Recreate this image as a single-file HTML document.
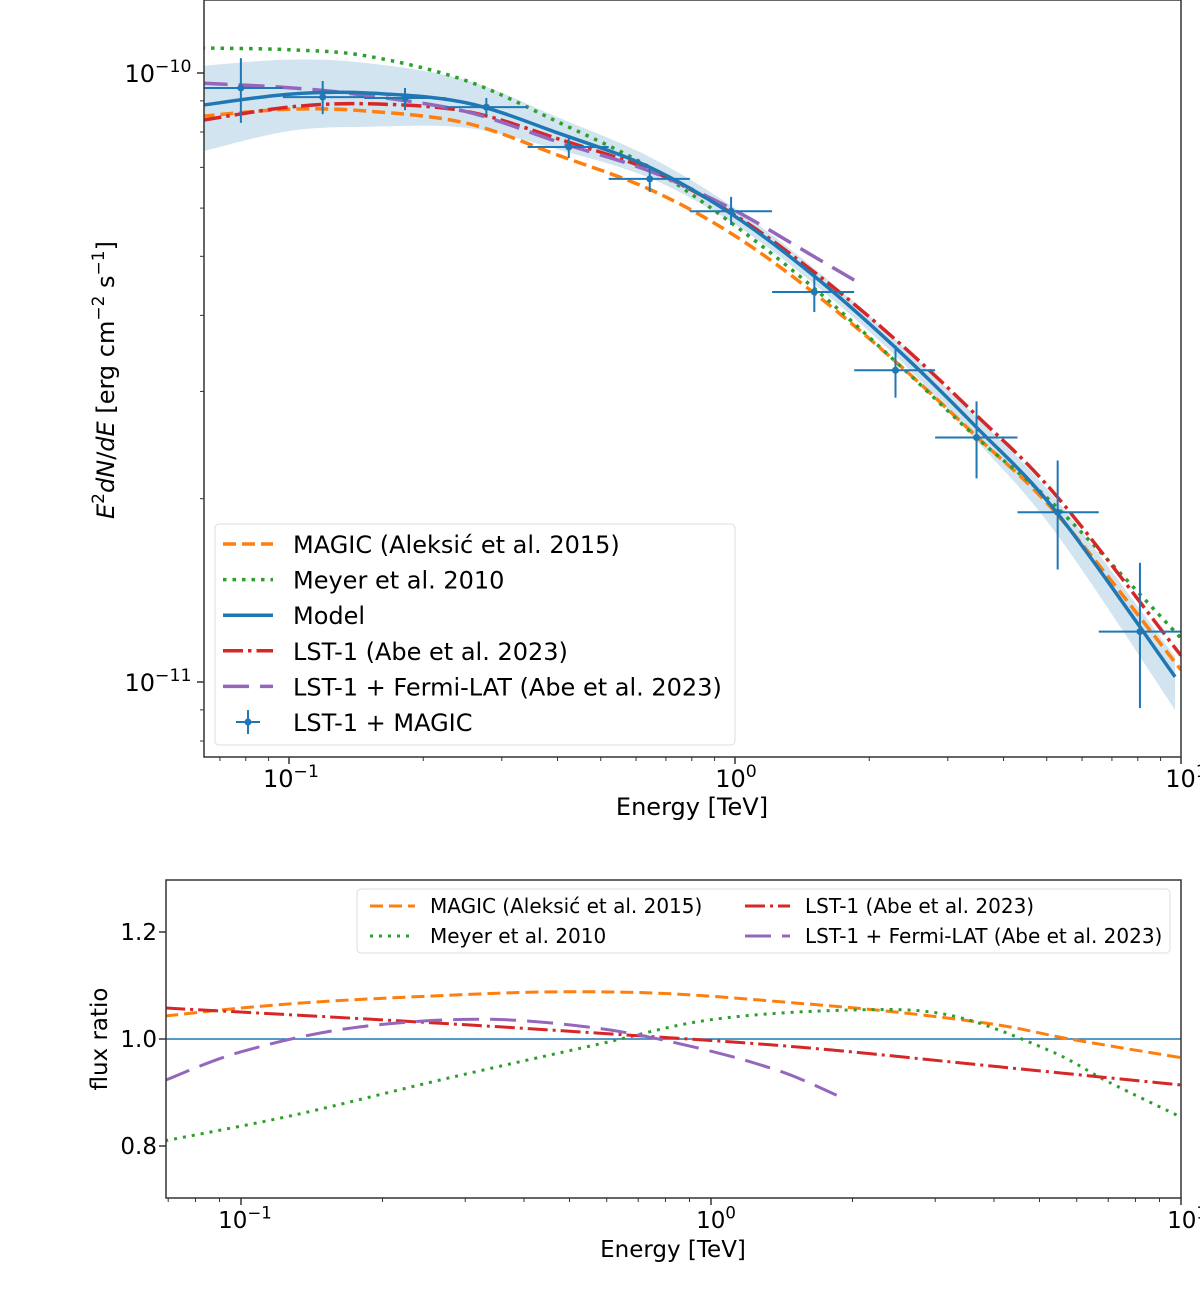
<!DOCTYPE html>
<html><head><meta charset="utf-8"><style>
html,body{margin:0;padding:0;background:#fff;}
svg{display:block;font-family:"DejaVu Sans","Liberation Sans",sans-serif;}
</style></head><body>
<svg id="fig" width="1200" height="1290" viewBox="0 0 1200 1290" xmlns="http://www.w3.org/2000/svg"></svg>
<script>
// ---------- DATA (top panel, flux in units of 1e-11 erg cm^-2 s^-1) ----------
const lineE = [0.0637,0.1,0.15,0.25,0.405,0.644,0.985,1.5,2.29,3.48,5.29,10];
const modelE = [0.0637,0.1,0.15,0.25,0.405,0.644,0.985,1.5,2.29,3.48,5.29,9.7];
const modelFlux = [8.85,9.23,9.27,8.93,7.95,7.0,5.86,4.65,3.54,2.62,1.89,1.02];
const bandUpper = [10.27,10.52,10.38,9.73,8.43,7.28,6.04,4.79,3.65,2.72,1.98,1.10];
const bandLower = [7.43,8.03,8.16,8.13,7.47,6.72,5.68,4.51,3.43,2.49,1.74,0.90];
const magicFlux = [8.49,8.72,8.66,8.27,7.31,6.44,5.44,4.36,3.36,2.53,1.88,1.047];
const meyerFlux = [10.99,10.92,10.66,9.71,8.28,7.0,5.66,4.44,3.36,2.52,1.93,1.18];
const lstFlux = [8.36,8.79,8.90,8.65,7.78,6.93,5.88,4.72,3.65,2.74,2.01,1.105];
const fermiE = [0.0637,0.1,0.15,0.25,0.405,0.644,0.985,1.5,1.85];
const fermiFlux = [9.62,9.46,9.18,8.64,7.69,6.90,5.98,5.0,4.57];
const pointE = [0.078,0.119,0.182,0.277,0.424,0.644,0.98,1.506,2.29,3.48,5.29,8.09];
const pointFlux = [9.45,9.13,9.10,8.79,7.56,6.70,5.93,4.37,3.25,2.52,1.90,1.21];
const pointHi = [10.58,9.70,9.45,9.10,7.91,7.01,6.26,4.66,3.57,2.89,2.31,1.57];
const pointLo = [8.28,8.56,8.69,8.53,7.25,6.38,5.63,4.05,2.93,2.16,1.53,0.906];
const binEdges = [0.0638,0.0969,0.1475,0.2243,0.3427,0.521,0.792,1.211,1.85,2.81,4.30,6.54,10];
// ---------- DATA (bottom panel, flux ratios) ----------
const magicRatioE = [0.069,0.1,0.15,0.25,0.45,0.8,1.53,2.5,4.1,5.8,10];
const magicRatio = [1.043,1.058,1.07,1.08,1.088,1.085,1.067,1.05,1.026,1.0,0.965];
const meyerRatioE = [0.069,0.13,0.276,0.575,1,1.96,3.2,5.2,7,10];
const meyerRatio = [0.81,0.858,0.927,0.99,1.036,1.054,1.045,0.98,0.92,0.854];
const lstRatioE = [0.069,0.216,0.575,1.53,4.1,10];
const lstRatio = [1.058,1.034,1.011,0.985,0.948,0.914];
const fermiRatioE = [0.069,0.1,0.17,0.32,0.575,0.94,1.4,1.85];
const fermiRatio = [0.923,0.976,1.02,1.037,1.02,0.983,0.94,0.895];
const ratioTicks = [0.8,1.0,1.2];

// ---------- helpers ----------
const NS="http://www.w3.org/2000/svg";
const svg=document.getElementById('fig');
function mk(tag,attrs,parent){const e=document.createElementNS(NS,tag);for(const k in attrs)e.setAttribute(k,attrs[k]);(parent||svg).appendChild(e);return e;}
const C={blue:'#1f77b4',orange:'#ff7f0e',green:'#2ca02c',red:'#d62728',purple:'#9467bd'};
const T={x0:204,x1:1181,y0:0,y1:757};
function txT(e){return 289+446*(Math.log10(e)+1);}
function tyT(f){return 73-609*(Math.log10(f*1e-11)+10);}
const B={x0:166,x1:1181,y0:880,y1:1198};
function txB(e){return 241+470*(Math.log10(e)+1);}
function tyB(r){return 1039-(r-1)*535;}

function smoothPath(pts){
  let d='M'+pts[0][0].toFixed(1)+','+pts[0][1].toFixed(1);
  for(let i=0;i<pts.length-1;i++){
    const p0=pts[i-1]||pts[i],p1=pts[i],p2=pts[i+1],p3=pts[i+2]||p2;
    const c1=[p1[0]+(p2[0]-p0[0])/6,p1[1]+(p2[1]-p0[1])/6];
    const c2=[p2[0]-(p3[0]-p1[0])/6,p2[1]-(p3[1]-p1[1])/6];
    d+=' C'+c1[0].toFixed(1)+','+c1[1].toFixed(1)+' '+c2[0].toFixed(1)+','+c2[1].toFixed(1)+' '+p2[0].toFixed(1)+','+p2[1].toFixed(1);
  }
  return d;
}
function text(x,y,s,attrs,parent){const t=mk('text',Object.assign({x:x,y:y,'font-size':24,fill:'#000'},attrs||{}),parent);t.textContent=s;return t;}
function powLabel(x,y,exp,size,parent,name){
  const t=mk('text',{x:x,y:y,'font-size':size,'text-anchor':'middle'},parent);
  
  
  const a=mk('tspan',{},t);a.textContent='10';
  const b=mk('tspan',{dy:-size*0.42,'font-size':size*0.72},t);b.textContent=exp;
  return t;
}

// ---------- TOP PANEL ----------
const gT=mk('g',{});


const clipT=mk('clipPath',{id:'clipT'});mk('rect',{x:T.x0,y:T.y0,width:T.x1-T.x0,height:T.y1-T.y0},clipT);
const plotT=mk('g',{'clip-path':'url(#clipT)'},gT);
{
  let d=smoothPath(modelE.map((e,i)=>[txT(e),tyT(bandUpper[i])]));
  const low=modelE.map((e,i)=>[txT(e),tyT(bandLower[i])]).reverse();
  d+=' L'+smoothPath(low).slice(1)+' Z';
  const p=mk('path',{d:d,fill:C.blue,'fill-opacity':0.2,stroke:'none'},plotT);
  
  
}
function curve(parent,E,V,tx,ty,color,dash,name,w){
  const p=mk('path',{d:smoothPath(E.map((e,i)=>[tx(e),ty(V[i])])),fill:'none',stroke:color,'stroke-width':w||3.5,'stroke-dasharray':dash||'none'},parent);
  
  
}
curve(plotT,lineE,magicFlux,txT,tyT,C.orange,'13,6','magic-2015-curve');
curve(plotT,lineE,meyerFlux,txT,tyT,C.green,'3.5,6','meyer-2010-curve');
curve(plotT,lineE,lstFlux,txT,tyT,C.red,'20,5,3.5,5','lst1-2023-curve');
curve(plotT,fermiE,fermiFlux,txT,tyT,C.purple,'26,11','lst1-fermi-curve');
curve(plotT,modelE,modelFlux,txT,tyT,C.blue,null,'model-curve');
pointE.forEach((e,i)=>{
  const g=mk('g',{stroke:C.blue,'stroke-width':2},plotT);
  
  
  const x=txT(e),y=tyT(pointFlux[i]);
  mk('line',{x1:txT(binEdges[i]),x2:txT(binEdges[i+1]),y1:y,y2:y},g);
  mk('line',{x1:x,x2:x,y1:tyT(pointHi[i]),y2:tyT(pointLo[i])},g);
  mk('circle',{cx:x,cy:y,r:3.5,fill:C.blue,stroke:'none'},g);
});
mk('rect',{x:T.x0,y:T.y0,width:T.x1-T.x0,height:T.y1-T.y0,fill:'none',stroke:'#333','stroke-width':1.5},gT);
for(let dec=-2;dec<=1;dec++){for(let m=1;m<10;m++){const e=m*Math.pow(10,dec);const x=txT(e);if(x<T.x0-0.5||x>T.x1+0.5)continue;
  mk('line',{x1:x,x2:x,y1:T.y1,y2:T.y1+(m===1?7:4),stroke:'#333','stroke-width':m===1?1.5:1},gT);}}
powLabel(291,787,'−1',24,gT,'x-tick-label-0.1');
powLabel(736,787,'0',24,gT,'x-tick-label-1');
powLabel(1186,787,'1',24,gT,'x-tick-label-10');
for(let dec=-12;dec<=-10;dec++){for(let m=1;m<10;m++){const f=m*Math.pow(10,dec)*1e11;const y=tyT(f);if(y<T.y0-0.5||y>T.y1+0.5)continue;
  mk('line',{x1:T.x0,x2:T.x0-(m===1?7:4),y1:y,y2:y,stroke:'#333','stroke-width':m===1?1.5:1},gT);}}
powLabel(158,82,'−10',24,gT,'y-tick-label-1e-10');
powLabel(158,691,'−11',24,gT,'y-tick-label-1e-11');
{const t=text(692,815,'Energy [TeV]',{'text-anchor':'middle'},gT);}
{
  const t=mk('text',{x:0,y:0,'font-size':24,'text-anchor':'middle',transform:'translate(114,380) rotate(-90)'},gT);
  
  
  t.innerHTML='<tspan font-style="italic">E</tspan><tspan dy="-10" font-size="17">2</tspan><tspan dy="10" font-style="italic">dN</tspan><tspan>/</tspan><tspan font-style="italic">dE</tspan><tspan>  [erg cm</tspan><tspan dy="-10" font-size="17">−2</tspan><tspan dy="10"> s</tspan><tspan dy="-10" font-size="17">−1</tspan><tspan dy="10">]</tspan>';
}
{
  const g=mk('g',{},gT);
  
  
  mk('rect',{x:215,y:524,width:520,height:221,rx:4,fill:'#fff','fill-opacity':0.85,stroke:'#ddd','stroke-width':1},g);
  const items=[['MAGIC (Aleksić et al. 2015)',C.orange,'13,6'],['Meyer et al. 2010',C.green,'3.5,6'],['Model',C.blue,null],['LST-1 (Abe et al. 2023)',C.red,'20,5,3.5,5'],['LST-1 + Fermi-LAT (Abe et al. 2023)',C.purple,'26,11'],['LST-1 + MAGIC',C.blue,'pt']];
  items.forEach((it,i)=>{
    const y=544+i*35.6;
    const e=mk('g',{},g);
    
    
    if(it[2]==='pt'){mk('line',{x1:236,x2:260,y1:y,y2:y,stroke:it[1],'stroke-width':2},e);mk('line',{x1:248,x2:248,y1:y-12,y2:y+12,stroke:it[1],'stroke-width':2},e);mk('circle',{cx:248,cy:y,r:3.5,fill:it[1]},e);}
    else mk('line',{x1:223,x2:273,y1:y,y2:y,stroke:it[1],'stroke-width':3.5,'stroke-dasharray':it[2]||'none'},e);
    text(293,y+9,it[0],{},e);
  });
}

// ---------- BOTTOM PANEL ----------
const gB=mk('g',{});


const clipB=mk('clipPath',{id:'clipB'});mk('rect',{x:B.x0,y:B.y0,width:B.x1-B.x0,height:B.y1-B.y0},clipB);
const plotB=mk('g',{'clip-path':'url(#clipB)'},gB);
{const l=mk('line',{x1:B.x0,x2:B.x1,y1:tyB(1),y2:tyB(1),stroke:C.blue,'stroke-width':1.5},plotB);}
curve(plotB,magicRatioE,magicRatio,txB,tyB,C.orange,'13,6','magic-ratio-curve',3);
curve(plotB,meyerRatioE,meyerRatio,txB,tyB,C.green,'3,6','meyer-ratio-curve',3);
curve(plotB,lstRatioE,lstRatio,txB,tyB,C.red,'20,5,3,5','lst1-ratio-curve',3);
curve(plotB,fermiRatioE,fermiRatio,txB,tyB,C.purple,'26,11','lst1-fermi-ratio-curve',3);
mk('rect',{x:B.x0,y:B.y0,width:B.x1-B.x0,height:B.y1-B.y0,fill:'none',stroke:'#333','stroke-width':1.5},gB);
for(let dec=-2;dec<=1;dec++){for(let m=1;m<10;m++){const e=m*Math.pow(10,dec);const x=txB(e);if(x<B.x0-0.5||x>B.x1+0.5)continue;
  mk('line',{x1:x,x2:x,y1:B.y1,y2:B.y1+(m===1?7:4),stroke:'#333','stroke-width':m===1?1.5:1},gB);}}
powLabel(245,1228,'−1',23,gB,'x-tick-label-0.1');
powLabel(716,1228,'0',23,gB,'x-tick-label-1');
powLabel(1187,1228,'1',23,gB,'x-tick-label-10');
ratioTicks.forEach(r=>{const y=tyB(r);mk('line',{x1:B.x0,x2:B.x0-7,y1:y,y2:y,stroke:'#333','stroke-width':1.5},gB);
  const t=text(157,y+8,r.toFixed(1),{'font-size':23,'text-anchor':'end'},gB);});
{const t=text(673,1257,'Energy [TeV]',{'font-size':23,'text-anchor':'middle'},gB);}
{const t=mk('text',{x:0,y:0,'font-size':23,'text-anchor':'middle',transform:'translate(107,1039) rotate(-90)'},gB);t.textContent='flux ratio';}
{
  const g=mk('g',{},gB);
  
  
  mk('rect',{x:357,y:889,width:813,height:64,rx:4,fill:'#fff','fill-opacity':0.85,stroke:'#ddd','stroke-width':1},g);
  const items=[['MAGIC (Aleksić et al. 2015)',C.orange,'13,6',370,906],['Meyer et al. 2010',C.green,'3,6',370,936],['LST-1 (Abe et al. 2023)',C.red,'20,5,3,5',745,906],['LST-1 + Fermi-LAT (Abe et al. 2023)',C.purple,'26,11',745,936]];
  items.forEach(it=>{
    const e=mk('g',{},g);
    
    
    mk('line',{x1:it[3],x2:it[3]+45,y1:it[4],y2:it[4],stroke:it[1],'stroke-width':3,'stroke-dasharray':it[2]},e);
    text(it[3]+60,it[4]+7,it[0],{'font-size':20},e);
  });
}
</script>
</body></html>
